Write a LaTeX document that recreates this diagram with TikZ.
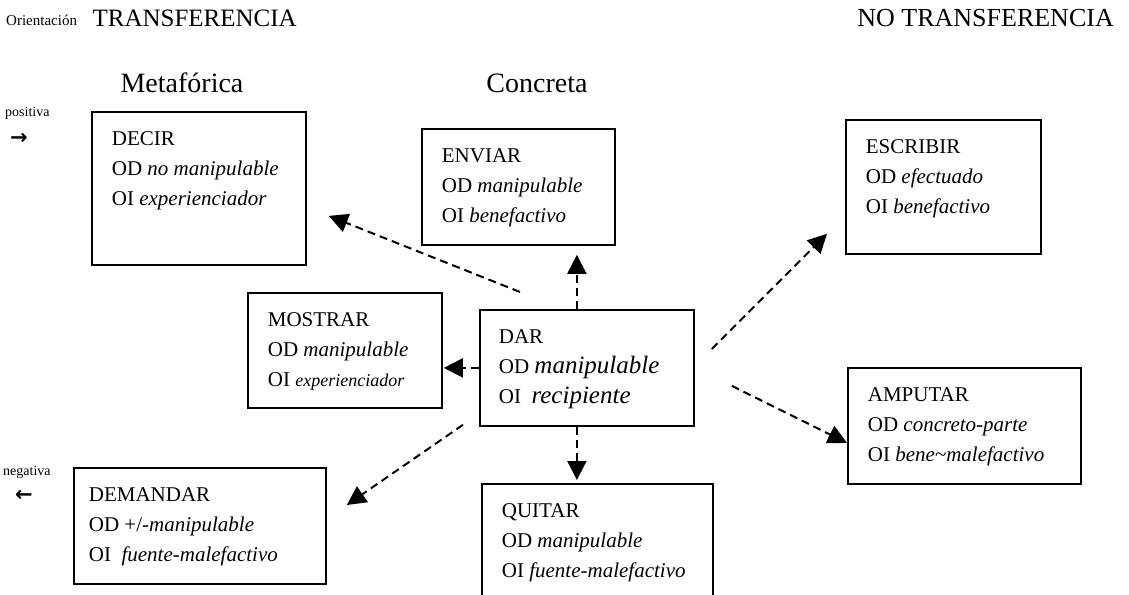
\documentclass[tikz,border=0pt]{standalone}
\usepackage{fontspec}
\setmainfont{Liberation Serif}
\newfontfamily\djv{DejaVu Sans}
\usetikzlibrary{arrows.meta,calc}
\tikzset{
  bx/.style={draw, line width=1.8pt, anchor=north west, inner xsep=20pt, inner ysep=0pt,
             font=\fontsize{21}{30}\selectfont},
  conn/.style={line width=2pt, dash pattern=on 8pt off 5pt,
               -{Triangle[length=19pt,width=19pt]}},
  head/.style={font=\fontsize{28}{30}\selectfont, inner sep=0pt},
  side/.style={font=\fontsize{14}{16}\selectfont, inner sep=0pt},
  arr/.style={font=\djv\bfseries\fontsize{21}{22}\selectfont, inner sep=0pt},
}
\newcommand\boxtxt[3]{\parbox[t][#2pt][t]{#1pt}{\rule{0pt}{34pt}#3}}

\begin{document}
\begin{tikzpicture}[x=1pt,y=-1pt]
\useasboundingbox (0,0) rectangle (1129,594);

% headings
\node[side, font=\fontsize{15}{16}\selectfont, anchor=base west] (orient) at (6,26) {Orientación};
\node[head, font=\fontsize{25}{28}\selectfont, anchor=base east] (transf) at (297,27) {TRANSFERENCIA};
\node[head, font=\fontsize{26}{28}\selectfont, anchor=base east] (notransf) at (1114,27) {NO TRANSFERENCIA};
\node[head] (metaf) at (182,83) {Metafórica};
\node[head] (concr) at (537,83) {Concreta};

\node[side, anchor=base west] (posit) at (5,116) {positiva};
\node[arr] (posarr) at (19,139) {→};
\node[side, anchor=base west] (negat) at (3,475) {negativa};
\node[arr] (negarr) at (24,496) {←};

% boxes
\node[bx] (decir) at (91,111) {\boxtxt{174}{153}{DECIR\\OD \textit{no manipulable}\\OI \textit{experienciador}}};
\node[bx] (enviar) at (421,128) {\boxtxt{153}{116}{ENVIAR\\OD \textit{manipulable}\\OI \textit{benefactivo}}};
\node[bx] (escribir) at (845,119) {\boxtxt{155}{134}{ESCRIBIR\\OD \textit{efectuado}\\OI \textit{benefactivo}}};
\node[bx] (mostrar) at (247,292) {\boxtxt{154}{115}{MOSTRAR\\OD \textit{manipulable}\\OI {\fontsize{18}{30}\selectfont\textit{experienciador}}}};
\node[bx, inner xsep=19pt] (dar) at (479,309) {\boxtxt{176}{116}{DAR\\OD {\fontsize{25}{30}\selectfont\textit{manipulable}}\\OI \ {\fontsize{25}{30}\selectfont\textit{recipiente}}}};
\node[bx] (amputar) at (847,367) {\boxtxt{193}{116}{AMPUTAR\\OD \textit{concreto-parte}\\OI \textit{bene\textasciitilde malefactivo}}};
\node[bx, inner xsep=15pt] (demandar) at (73,467) {\boxtxt{222}{116}{DEMANDAR\\OD +/-\textit{manipulable}\\OI \ \textit{fuente-malefactivo}}};
\node[bx] (quitar) at (481,483) {\boxtxt{191}{135}{QUITAR\\OD \textit{manipulable}\\OI \textit{fuente-malefactivo}}};

% connectors
\draw[conn] ($(dar.north west)+(41,-17)$) -- ($(decir.east)+(22,27.5)$);
\draw[conn] ($(dar.north)+(-10,0)$) -- ($(enviar.south)+(58.5,9)$);
\draw[conn, shorten >=1pt] (dar.west) -- (mostrar.east |- dar.west);
\draw[conn] ($(dar.east)+(17,-19)$) -- ($(escribir.south west)+(-18,-21)$);
\draw[conn] ($(dar.east)+(37,18)$) -- ($(amputar.west)+(0,17)$);
\draw[conn] ($(dar.south west)+(-16,-2)$) -- ($(demandar.north east)+(20,38)$);
\draw[conn] ($(dar.south)+(-10,0)$) -- ($(quitar.north)+(-20.5,-3)$);
\end{tikzpicture}
\end{document}
